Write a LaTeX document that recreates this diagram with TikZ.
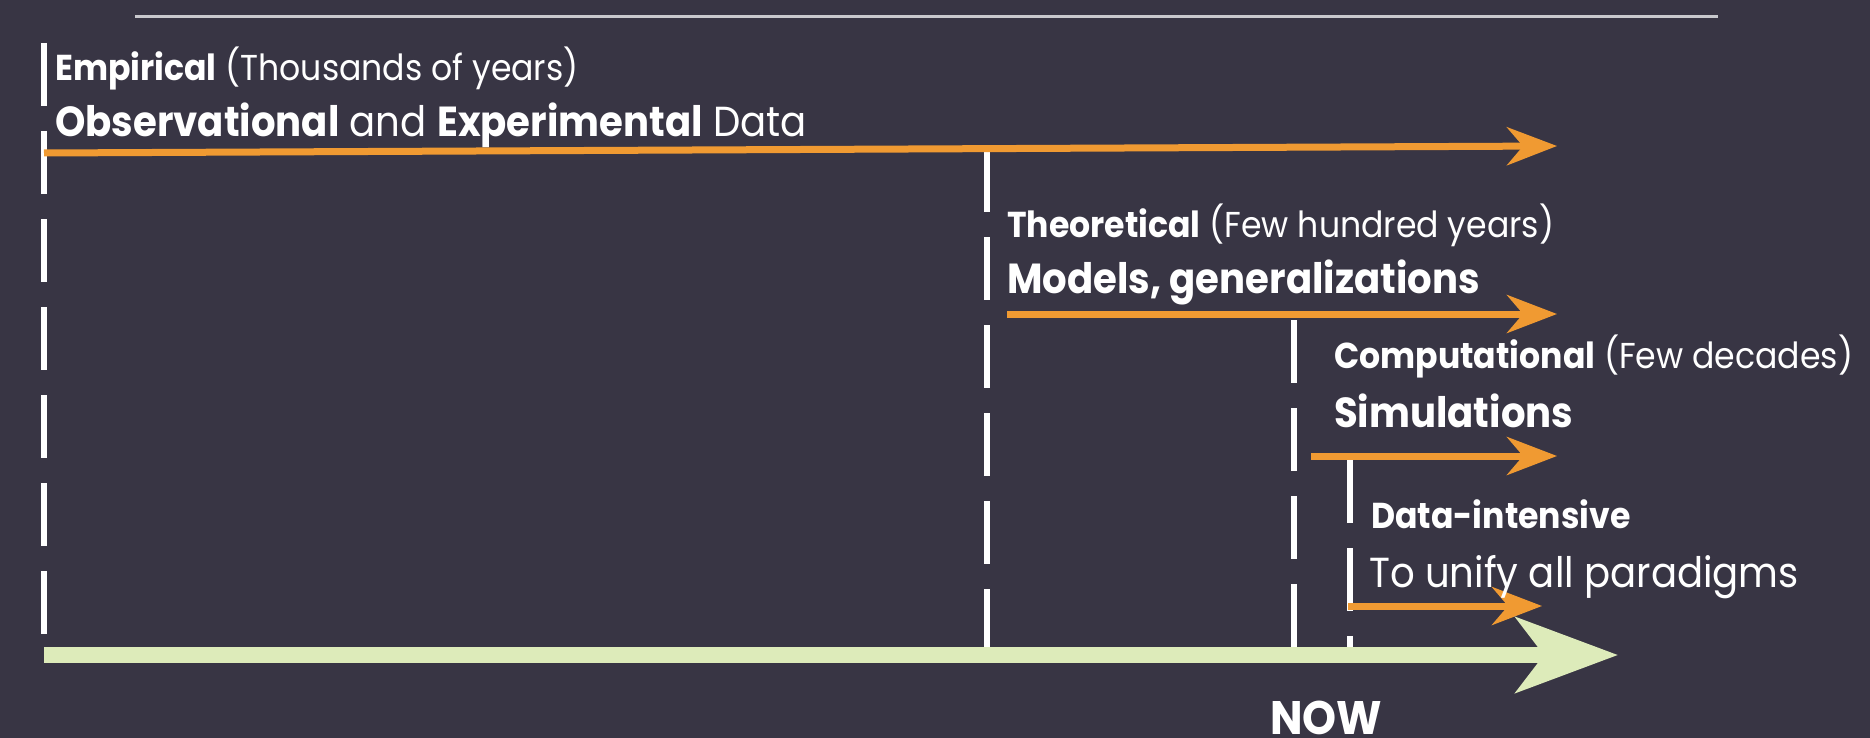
\documentclass[tikz,border=0pt]{standalone}
\usepackage{fontspec}
\setmainfont{Poppins}[FakeStretch=0.92]
\usepackage{xcolor}
\usetikzlibrary{arrows.meta}

\definecolor{slate}{RGB}{56,53,68}
\definecolor{amber}{RGB}{240,154,50}
\definecolor{sage}{RGB}{221,235,186}
\definecolor{rulegray}{RGB}{200,200,205}

\begin{document}
\begin{tikzpicture}[x=1pt, y=-1pt,
    era/.style = {draw = white, line width = 6pt, dash pattern = on 63pt off 25pt},
    flow/.style = {draw = amber, line width = 7pt,
                   -{Stealth[length=50pt, width=38pt, inset=16pt]}},
    eratext/.style = {anchor = base west, text = white, inner sep = 0pt,
                      font = \fontsize{36}{36}\selectfont},
    erahead/.style = {eratext, font = \fontsize{42}{42}\selectfont}
    ]

    % canvas
    \fill[slate] (0,0) rectangle (1870,738);
    \useasboundingbox (0,0) rectangle (1870,738);

    \coordinate (ruleL) at (135,17);
    \coordinate (ruleR) at (1718,17);
    \draw[rulegray, line width = 3pt] (ruleL) -- (ruleR);

    % era boundaries
    \coordinate (empTop)  at (44,43);
    \coordinate (empBot)  at (44,640);
    \coordinate (theoTop) at (987,149);
    \coordinate (theoBot) at (987,653);
    \coordinate (compTop) at (1294,320);
    \coordinate (compBot) at (1294,650);
    \coordinate (dataTop) at (1350,460);
    \coordinate (dataBot) at (1350,648);

    \draw[era] (empTop) -- (empBot);
    \draw[era] (theoTop) -- (theoBot);
    \draw[era] (compTop) -- (compBot);
    \draw[era] (dataTop) -- (dataBot);

    % era arrows
    \coordinate (empL)  at (44,153);
    \coordinate (empR)  at (1557,146);
    \coordinate (theoL) at (1007,314);
    \coordinate (theoR) at (1557,314);
    \coordinate (compL) at (1311,456);
    \coordinate (compR) at (1557,456);
    \coordinate (dataL) at (1348,606);
    \coordinate (dataR) at (1542,606);

    \draw[flow] (empL) -- (empR);
    \draw[flow] (theoL) -- (theoR);
    \draw[flow] (compL) -- (compR);
    \draw[flow] (dataL) -- (dataR);

    % time axis
    \coordinate (axisL) at (44,655);
    \coordinate (axisR) at (1618,655);
    \draw[sage, line width = 16pt,
          -{Stealth[length=102pt, width=75pt, inset=28pt]}] (axisL) -- (axisR);

    \node[eratext] (empTitle) at (55,81)
        {\textbf{Empirical} (Thousands of years)};
    \node[erahead] (empData) at (55,137)
        {\textbf{Observational} and \textbf{Experimental} Data};

    \node[eratext] (theoTitle) at (1007,237)
        {\textbf{Theoretical} (Few hundred years)};
    \node[erahead] (theoData) at (1007,293)
        {\textbf{Models, generalizations}};

    \node[eratext] (compTitle) at (1334,368)
        {\textbf{Computational} (Few decades)};
    \node[erahead] (compData) at (1334,427)
        {\textbf{Simulations}};

    \node[eratext] (dataTitle) at (1371,528)
        {\textbf{Data-intensive}};
    \node[erahead] (dataData) at (1369,587)
        {To unify all paradigms};

    \node[erahead, anchor = base, font = \fontsize{47}{47}\selectfont\bfseries]
        (now) at (1326,734) {NOW};

\end{tikzpicture}
\end{document}
